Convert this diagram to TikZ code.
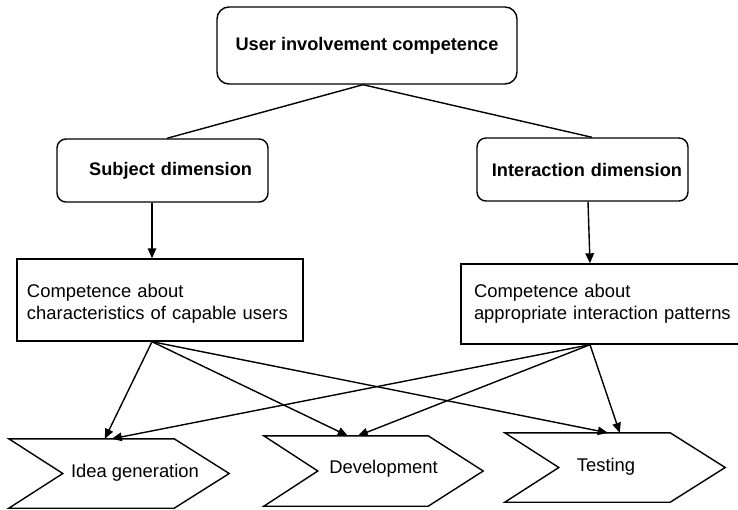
\documentclass[tikz,border=0pt]{standalone}
\usepackage{fontspec}
\setmainfont{Liberation Sans}
\usetikzlibrary{arrows.meta}
\begin{document}
\begin{tikzpicture}[x=1pt,y=-1pt,
  every node/.style={font=\fontsize{18.4}{22}\selectfont},
  ln/.style={line width=1.4pt, line join=miter},
  arr/.style={ln, -{Triangle[length=10pt,width=8.5pt]}},
  rbox/.style={draw, ln, rounded corners=#1, inner sep=0pt,
    font=\fontsize{18.2}{22}\selectfont\bfseries},
  sbox/.style={draw, ln, inner sep=0pt, align=left},
  chevbody/.style={inner sep=0pt, minimum width=165pt, minimum height=69pt},
  lbl/.style={inner sep=0pt}
]
\useasboundingbox (0,0) rectangle (738,509);

% upper level: competence and its two dimensions
\node[rbox=12pt, minimum width=300pt, minimum height=77pt] (top) at (367,45.5)
  {User involvement competence};
\node[rbox=9pt, minimum width=211pt, minimum height=63pt,
  text width=179pt, inner xsep=16pt, align=right] (subj) at (162.5,170.5)
  {Subject dimension};
\node[rbox=9pt, minimum width=211pt, minimum height=63pt,
  text width=199pt, inner xsep=6pt, align=right] (inter) at (582.5,169.5)
  {Interaction dimension};

% middle level: what each dimension is about
\node[sbox, minimum width=286pt, minimum height=82pt, text width=266pt,
  inner xsep=10pt] (L) at (160,300)
  {\rule{0pt}{21pt}Competence about\\characteristics of capable users};
\node[sbox, minimum width=289pt, minimum height=80pt, text width=263pt,
  inner xsep=13pt] (R) at (605.5,304)
  {Competence about\\appropriate interaction patterns};

% lower level: the three phases as chevrons
\node[chevbody] (c1) at (91.5,473.5) {};
\node[chevbody, minimum width=164pt, minimum height=70pt] (c2) at (346,471) {};
\node[chevbody] (c3) at (587.5,467.5) {};
\foreach \c in {c1,c2,c3}
  \draw[ln] (\c.north west) -- (\c.north east) -- ([xshift=55pt]\c.east)
    -- (\c.south east) -- (\c.south west) -- ([xshift=54pt]\c.west) -- cycle;
\node[lbl] (t1) at (135,473) {Idea generation};
\node[lbl] (t2) at (383.5,469) {Development};
\node[lbl] (t3) at (606,467) {Testing};

% connectors
\coordinate (apex) at ([xshift=-4pt]top.south);
\draw[ln] (apex) -- ([xshift=4.5pt]subj.north);
\draw[ln] (apex) -- ([xshift=9.5pt]inter.north);
\draw[arr] ([xshift=-10.5pt]subj.south) -- ([xshift=-8pt]L.north);
\draw[arr] ([xshift=5.5pt]inter.south) -- ([xshift=-15.5pt]R.north);

\coordinate (ls) at ([xshift=-8pt]L.south);
\coordinate (rs) at ([xshift=-15.5pt]R.south);
\draw[arr] (ls) -- ([xshift=96pt]c1.north west);
\draw[arr] (ls) -- ([xshift=84pt]c2.north west);
\draw[arr] (ls) -- ([xshift=103pt]c3.north west);
\draw[arr] (rs) -- ([xshift=103pt]c1.north west);
\draw[arr] (rs) -- ([xshift=94pt]c2.north west);
\draw[arr] (rs) -- ([xshift=115pt]c3.north west);
\end{tikzpicture}
\end{document}
